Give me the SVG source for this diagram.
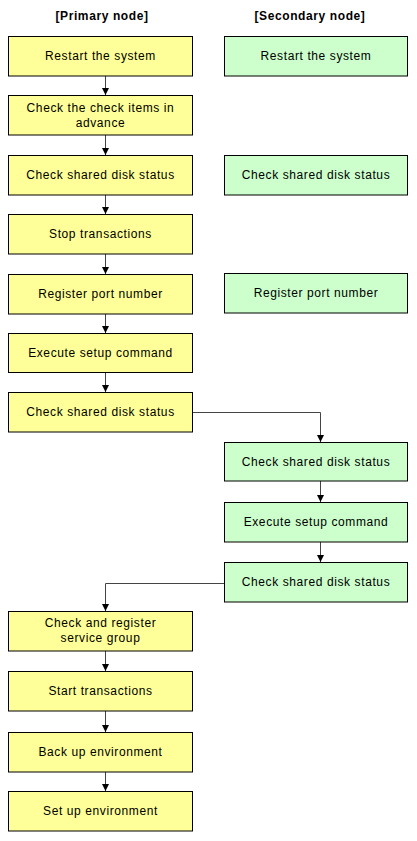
<svg xmlns="http://www.w3.org/2000/svg" width="417" height="841" viewBox="0 0 417 841">
<style>
.p{fill:#FFFF99;stroke:#000;stroke-width:1}
.s{fill:#CCFFCC;stroke:#000;stroke-width:1}
text{font-family:"Liberation Sans",Arial,sans-serif;font-size:12px;fill:#000;text-anchor:middle;letter-spacing:0.6px}
.h{font-weight:bold}
.c{fill:none;stroke:#444;stroke-width:1}
</style>
<defs>
<marker id="a" markerWidth="8" markerHeight="8" refX="7" refY="4" orient="auto" markerUnits="userSpaceOnUse">
<path d="M0,0.5 L7,4 L0,7.5 Z" fill="#000"/>
</marker>
</defs>
<rect width="417" height="841" fill="#fff"/>
<text class="h" x="102" y="20">[Primary node]</text>
<text class="h" x="310" y="20">[Secondary node]</text>
<g id="connectors">
<path class="c" d="M105.5,76 V95" marker-end="url(#a)"/>
<path class="c" d="M105.5,135 V155" marker-end="url(#a)"/>
<path class="c" d="M105.5,195 V214" marker-end="url(#a)"/>
<path class="c" d="M105.5,254 V274" marker-end="url(#a)"/>
<path class="c" d="M105.5,314 V333" marker-end="url(#a)"/>
<path class="c" d="M105.5,372 V392" marker-end="url(#a)"/>
<path class="c" d="M192,412.5 H320.5 V442" marker-end="url(#a)"/>
<path class="c" d="M320.5,481 V502" marker-end="url(#a)"/>
<path class="c" d="M320.5,542 V562" marker-end="url(#a)"/>
<path class="c" d="M224,583.5 H105.5 V611" marker-end="url(#a)"/>
<path class="c" d="M105.5,651 V671" marker-end="url(#a)"/>
<path class="c" d="M105.5,711 V732" marker-end="url(#a)"/>
<path class="c" d="M105.5,772 V791" marker-end="url(#a)"/>
</g>
<g id="p1"><rect class="p" x="8.5" y="36.5" width="184" height="39.5"/><text x="100.5" y="60">Restart the system</text></g>
<g id="p2"><rect class="p" x="8.5" y="95.5" width="184" height="39.5"/><text x="100.5" y="112">Check the check items in</text><text x="100.5" y="127">advance</text></g>
<g id="p3"><rect class="p" x="8.5" y="155.5" width="184" height="39.5"/><text x="100.5" y="179">Check shared disk status</text></g>
<g id="p4"><rect class="p" x="8.5" y="214.5" width="184" height="39.5"/><text x="100.5" y="238">Stop transactions</text></g>
<g id="p5"><rect class="p" x="8.5" y="274.5" width="184" height="39.5"/><text x="100.5" y="298">Register port number</text></g>
<g id="p6"><rect class="p" x="8.5" y="333.5" width="184" height="39"/><text x="100.5" y="357">Execute setup command</text></g>
<g id="p7"><rect class="p" x="8.5" y="392.5" width="184" height="39.5"/><text x="100.5" y="416">Check shared disk status</text></g>
<g id="s1"><rect class="s" x="224.5" y="36.5" width="183" height="39.5"/><text x="316" y="60">Restart the system</text></g>
<g id="s2"><rect class="s" x="224.5" y="155.5" width="183" height="39.5"/><text x="316" y="179">Check shared disk status</text></g>
<g id="s3"><rect class="s" x="224.5" y="273.5" width="183" height="39.5"/><text x="316" y="297">Register port number</text></g>
<g id="s4"><rect class="s" x="224.5" y="442.5" width="183" height="38.5"/><text x="316" y="466">Check shared disk status</text></g>
<g id="s5"><rect class="s" x="224.5" y="502.5" width="183" height="39.5"/><text x="316" y="526">Execute setup command</text></g>
<g id="s6"><rect class="s" x="224.5" y="562.5" width="183" height="39.5"/><text x="316" y="586">Check shared disk status</text></g>
<g id="p8"><rect class="p" x="8.5" y="611.5" width="184" height="39.5"/><text x="100.5" y="627">Check and register</text><text x="100.5" y="642">service group</text></g>
<g id="p9"><rect class="p" x="8.5" y="671.5" width="184" height="39.5"/><text x="100.5" y="695">Start transactions</text></g>
<g id="p10"><rect class="p" x="8.5" y="732.5" width="184" height="39.5"/><text x="100.5" y="756">Back up environment</text></g>
<g id="p11"><rect class="p" x="8.5" y="791.5" width="184" height="39.5"/><text x="100.5" y="815">Set up environment</text></g>
</svg>
